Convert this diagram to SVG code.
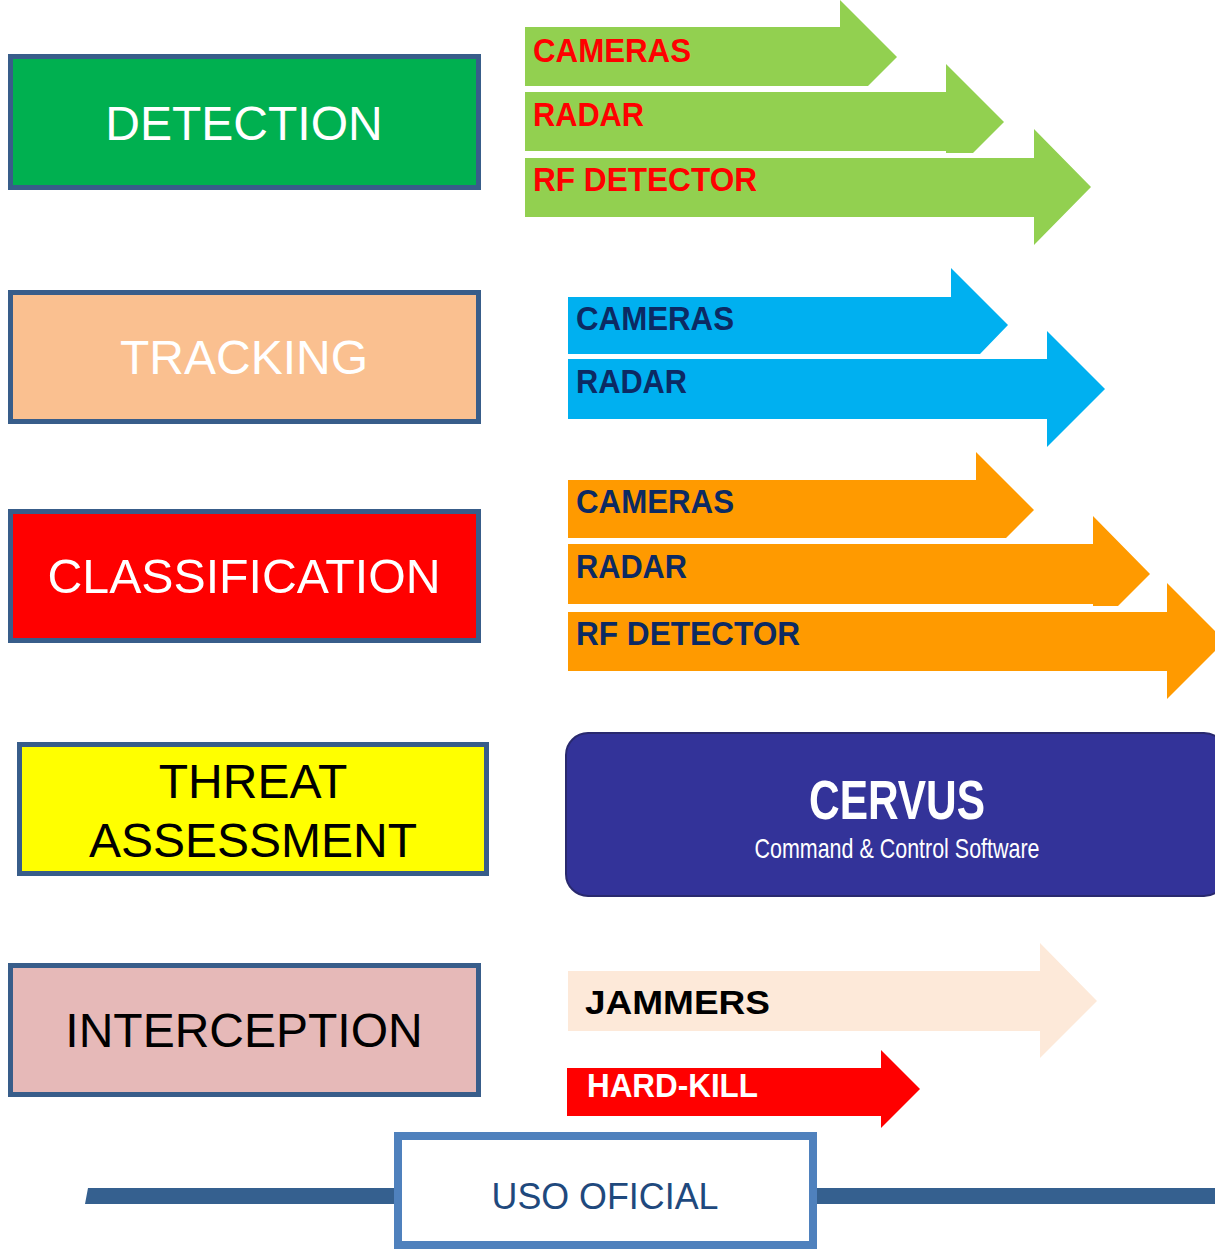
<svg xmlns="http://www.w3.org/2000/svg" width="1215" height="1249" viewBox="0 0 1215 1249">
<style>
.box{stroke:#385d8a;stroke-width:5}
.big{font-family:"Liberation Sans",Arial,sans-serif;font-size:48px;text-anchor:middle}
.lbl{font-family:"Liberation Sans",Arial,sans-serif;font-size:33px;font-weight:bold}
.red{fill:#ff0000}
.navy{fill:#0c2a63}
</style>
<rect width="1215" height="1249" fill="#ffffff"/>
<g id="detection">
<rect class="box" x="10.5" y="56.5" width="468" height="131" fill="#00b050"/>
<text class="big" x="244" y="140" fill="#ffffff">DETECTION</text>
</g>
<g id="tracking">
<rect class="box" x="10.5" y="292.5" width="468" height="129" fill="#fac090"/>
<text class="big" x="244" y="374" fill="#ffffff">TRACKING</text>
</g>
<g id="classification">
<rect class="box" x="10.5" y="511.5" width="468" height="129" fill="#ff0000"/>
<text class="big" x="244" y="593" fill="#ffffff" textLength="393" lengthAdjust="spacingAndGlyphs">CLASSIFICATION</text>
</g>
<g id="threat">
<rect class="box" x="19.5" y="744.5" width="467" height="129" fill="#ffff00"/>
<text class="big" x="253" y="798" fill="#000000">THREAT</text>
<text class="big" x="253" y="857" fill="#000000">ASSESSMENT</text>
</g>
<g id="interception">
<rect class="box" x="10.5" y="965.5" width="468" height="129" fill="#e6b9b8"/>
<text class="big" x="244" y="1047" fill="#000000">INTERCEPTION</text>
</g>
<g id="connectors">
<g id="det-arrows" fill="#92d050">
<polygon points="525,27 840,27 840,0 897,57 868,86 525,86"/>
<polygon points="525,92 946,92 946,64 1004,122 973,153 946,153 946,151 525,151"/>
<polygon points="525,158 1034,158 1034,129 1091,187 1034,245 1034,217 525,217"/>
</g>
<text class="lbl red" x="533" y="62" textLength="158" lengthAdjust="spacingAndGlyphs">CAMERAS</text>
<text class="lbl red" x="533" y="126" textLength="111" lengthAdjust="spacingAndGlyphs">RADAR</text>
<text class="lbl red" x="533" y="191" textLength="224" lengthAdjust="spacingAndGlyphs">RF DETECTOR</text>
<g id="trk-arrows" fill="#00b0f0">
<polygon points="568,297 951,297 951,268 1008,325 980,354 568,354"/>
<polygon points="568,359 1047,359 1047,331 1105,389 1047,447 1047,419 568,419"/>
</g>
<text class="lbl navy" x="576" y="330" textLength="158" lengthAdjust="spacingAndGlyphs">CAMERAS</text>
<text class="lbl navy" x="576" y="393" textLength="111" lengthAdjust="spacingAndGlyphs">RADAR</text>
<g id="cls-arrows" fill="#ff9a00">
<polygon points="568,480 976,480 976,452 1034,510 1006,538 568,538"/>
<polygon points="568,544 1093,544 1093,516 1150,574 1118,606 1093,606 1093,604 568,604"/>
<polygon points="568,612 1167,612 1167,583 1225,641 1167,699 1167,671 568,671"/>
</g>
<text class="lbl navy" x="576" y="513" textLength="158" lengthAdjust="spacingAndGlyphs">CAMERAS</text>
<text class="lbl navy" x="576" y="578" textLength="111" lengthAdjust="spacingAndGlyphs">RADAR</text>
<text class="lbl navy" x="576" y="645" textLength="224" lengthAdjust="spacingAndGlyphs">RF DETECTOR</text>
<g id="int-arrows">
<polygon points="568,971 1040,971 1040,943 1097,1001 1040,1058 1040,1031 568,1031" fill="#fde9d9"/>
<polygon points="567,1068 881,1068 881,1050 920,1089 881,1128 881,1116 567,1116" fill="#ff0000"/>
</g>
<text class="lbl" x="585" y="1014" fill="#000000" font-size="36" textLength="185" lengthAdjust="spacingAndGlyphs">JAMMERS</text>
<text class="lbl" x="587" y="1097" fill="#ffffff" textLength="171" lengthAdjust="spacingAndGlyphs">HARD-KILL</text>
</g>
<g id="cervus">
<rect x="566" y="733" width="660" height="163" rx="22" ry="22" fill="#333399" stroke="#29296e" stroke-width="2"/>
<text x="897" y="819" fill="#ffffff" font-family="'Liberation Sans',Arial,sans-serif" font-weight="bold" font-size="55" text-anchor="middle" textLength="176" lengthAdjust="spacingAndGlyphs">CERVUS</text>
<text x="897" y="858" fill="#ffffff" font-family="'Liberation Sans',Arial,sans-serif" font-size="28" text-anchor="middle" textLength="285" lengthAdjust="spacingAndGlyphs">Command &amp; Control Software</text>
</g>
<g id="footer">
<polygon points="88,1188 394,1188 394,1204 85,1204" fill="#35608f"/>
<rect x="817" y="1188" width="400" height="16" fill="#35608f"/>
<rect x="398" y="1136" width="415" height="109" fill="#ffffff" stroke="#4f81bd" stroke-width="8"/>
<text x="605" y="1209" fill="#1f497d" font-family="'Liberation Sans',Arial,sans-serif" font-size="36" text-anchor="middle" textLength="227" lengthAdjust="spacingAndGlyphs">USO OFICIAL</text>
</g>
</svg>
